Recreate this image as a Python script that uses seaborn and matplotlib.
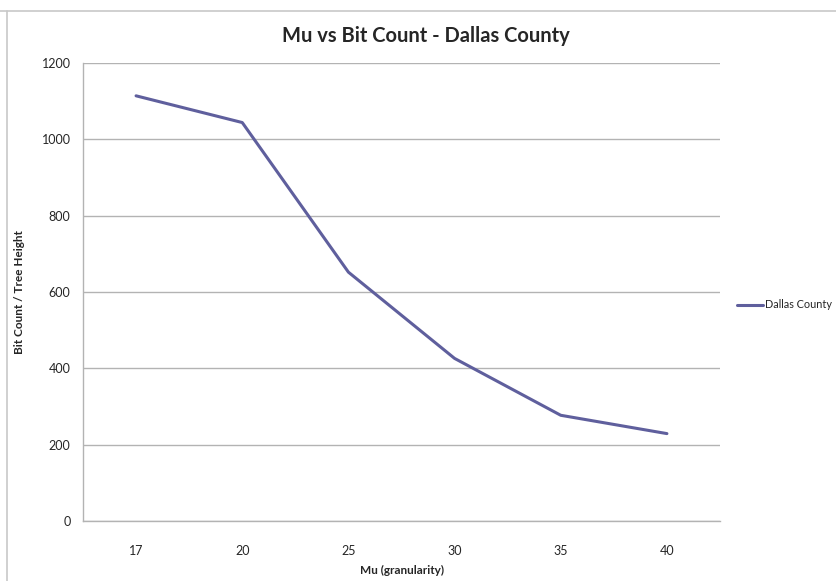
import seaborn as sns
import pandas as pd
from matplotlib import pyplot as plt
from matplotlib.lines import Line2D

mu_labels = ["17", "20", "25", "30", "35", "40"]
bit_count = [1114, 1044, 652, 426, 277, 229]
series_name = "Dallas County"

df = pd.DataFrame({"Mu": mu_labels, "Bits": bit_count, "County": series_name})

sns.set_style("white")
plt.rcParams['font.family'] = ['Lato', 'DejaVu Sans']

fig = plt.figure(figsize=(8.36, 5.81), dpi=100)
ax = fig.add_axes([83/836, 1 - 521/581, (720 - 83)/836, (521 - 63)/581])

grid_c = "#b3b3b3"
line_c = "#5f5f9d"

sns.lineplot(data=df, x="Mu", y="Bits", hue="County", palette=[line_c],
             linewidth=2.2, sort=False, ax=ax, legend=False)

ax.set_xlim(-0.5, len(mu_labels) - 0.5)
ax.set_ylim(0, 1200)
ax.set_yticks(range(0, 1201, 200))
ax.yaxis.grid(True, color=grid_c, linewidth=1)
ax.set_axisbelow(True)

# category ticks between labels, like the spreadsheet chart
ax.set_xticks([i - 0.5 for i in range(len(mu_labels) + 1)], minor=True)
ax.tick_params(axis="x", which="major", length=0, pad=17, labelsize=9)
ax.tick_params(axis="x", which="minor", length=5, color=grid_c, direction="out")
ax.tick_params(axis="y", length=5, color=grid_c, direction="out", labelsize=9, pad=4)

for s in ["top", "right"]:
    ax.spines[s].set_visible(False)
for s in ["left", "bottom"]:
    ax.spines[s].set_color(grid_c)
    ax.spines[s].set_linewidth(1)

ax.set_xlabel("Mu (granularity)", fontsize=8.5, fontweight="bold", labelpad=6)
ax.set_ylabel("Bit Count / Tree Height", fontsize=8.5, fontweight="bold", labelpad=12)
fig.text(426/836, 1 - 36/581, "Mu vs Bit Count - Dallas County",
         ha="center", va="center", fontsize=14.5, fontweight="bold")

handle = Line2D([], [], color=line_c, linewidth=2.2)
fig.legend([handle], [series_name], loc="center left", frameon=False,
           bbox_to_anchor=(737/836, 1 - 305/581), fontsize=7.8,
           borderpad=0, borderaxespad=0,
           handlelength=2.4, handletextpad=0.2)

# chart area border (top and left visible)
fig.add_artist(Line2D([0, 1], [1 - 11/581] * 2, color="#c8c8c8", linewidth=1.2))
fig.add_artist(Line2D([7/836] * 2, [0, 1 - 11/581], color="#c8c8c8", linewidth=1.2))

fig.savefig("out.png", dpi=100)
